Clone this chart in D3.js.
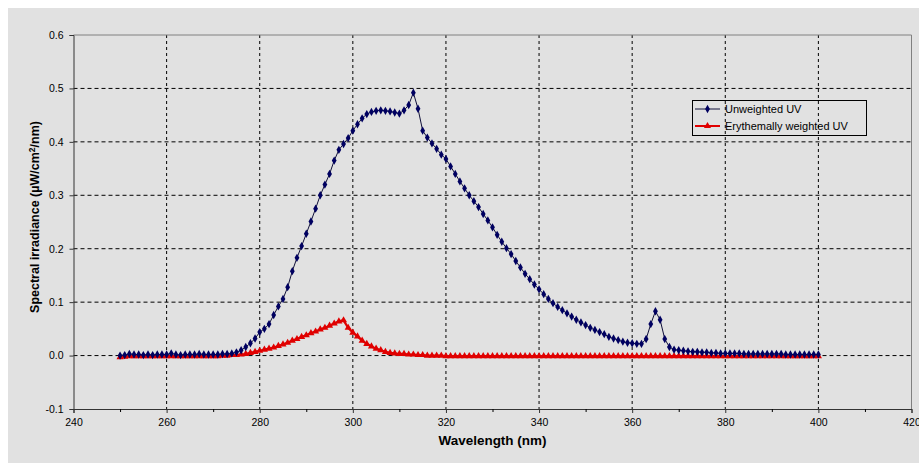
<!DOCTYPE html>
<html>
<head>
<meta charset="utf-8">
<script src="https://cdn.jsdelivr.net/npm/d3@7"></script>
<style>
  html, body { margin: 0; padding: 0; background: #fff; }
  svg { display: block; }
  text { font-family: "Liberation Sans", Arial, sans-serif; fill: #000; }
</style>
</head>
<body>
<div id="chart"></div>
<script>
// wavelength grid (nm) and measured values
const wavelength = [
  250,251,252,253,254,255,256,257,258,259,260,261,262,263,264,265,266,267,268,269,
  270,271,272,273,274,275,276,277,278,279,280,281,282,283,284,285,286,287,288,289,
  290,291,292,293,294,295,296,297,298,299,300,301,302,303,304,305,306,307,308,309,
  310,311,312,313,314,315,316,317,318,319,320,321,322,323,324,325,326,327,328,329,
  330,331,332,333,334,335,336,337,338,339,340,341,342,343,344,345,346,347,348,349,
  350,351,352,353,354,355,356,357,358,359,360,361,362,363,364,365,366,367,368,369,
  370,371,372,373,374,375,376,377,378,379,380,381,382,383,384,385,386,387,388,389,
  390,391,392,393,394,395,396,397,398,399,400
];

const unweighted = [
  0.000,0.001,0.003,0.002,0.002,0.001,0.002,0.001,0.002,0.002,
  0.002,0.004,0.002,0.001,0.002,0.002,0.002,0.003,0.002,0.002,
  0.002,0.002,0.003,0.003,0.004,0.006,0.010,0.016,0.023,0.032,
  0.044,0.050,0.059,0.076,0.092,0.106,0.128,0.158,0.183,0.205,
  0.228,0.251,0.275,0.300,0.320,0.340,0.365,0.385,0.396,0.407,
  0.421,0.433,0.444,0.452,0.456,0.458,0.459,0.458,0.457,0.455,
  0.453,0.459,0.469,0.492,0.462,0.421,0.408,0.397,0.387,0.376,
  0.368,0.354,0.340,0.326,0.313,0.300,0.289,0.278,0.265,0.253,
  0.240,0.226,0.213,0.201,0.190,0.177,0.165,0.153,0.143,0.133,
  0.124,0.115,0.106,0.098,0.091,0.085,0.079,0.073,0.067,0.062,
  0.057,0.052,0.048,0.044,0.040,0.035,0.032,0.029,0.026,0.024,
  0.023,0.022,0.022,0.031,0.059,0.083,0.067,0.031,0.016,0.011,
  0.010,0.009,0.008,0.007,0.007,0.006,0.006,0.005,0.005,0.004,
  0.004,0.004,0.004,0.004,0.003,0.003,0.003,0.003,0.003,0.003,
  0.003,0.003,0.003,0.002,0.002,0.002,0.002,0.002,0.002,0.002,
  0.002
];

const erythemal = [
  -0.003,-0.002,-0.001,-0.001,-0.001,-0.001,-0.001,-0.001,-0.001,-0.001,
  -0.001,-0.001,-0.001,-0.001,-0.001,-0.001,-0.001,-0.001,-0.001,-0.001,
  -0.001,-0.001,0.000,0.000,0.001,0.001,0.002,0.003,0.005,0.007,
  0.009,0.011,0.013,0.015,0.018,0.021,0.024,0.028,0.031,0.035,
  0.038,0.042,0.045,0.049,0.052,0.056,0.060,0.064,0.066,0.052,
  0.043,0.036,0.028,0.022,0.017,0.013,0.010,0.007,0.005,0.004,
  0.003,0.003,0.002,0.002,0.001,0.001,0.000,0.000,0.000,0.000,
  -0.001,-0.001,-0.001,-0.001,-0.001,-0.001,-0.001,-0.001,-0.001,-0.001,
  -0.001,-0.001,-0.001,-0.001,-0.001,-0.001,-0.001,-0.001,-0.001,-0.001,
  -0.001,-0.001,-0.001,-0.001,-0.001,-0.001,-0.001,-0.001,-0.001,-0.001,
  -0.001,-0.001,-0.001,-0.001,-0.001,-0.001,-0.001,-0.001,-0.001,-0.001,
  -0.001,-0.001,-0.001,-0.001,-0.001,-0.001,-0.001,-0.001,-0.001,-0.001,
  -0.001,-0.001,-0.001,-0.001,-0.001,-0.001,-0.001,-0.001,-0.001,-0.001,
  -0.001,-0.001,-0.001,-0.001,-0.001,-0.001,-0.001,-0.001,-0.001,-0.001,
  -0.001,-0.001,-0.001,-0.001,-0.001,-0.001,-0.001,-0.001,-0.001,-0.001,
  -0.001
];

const xTicks = [240,260,280,300,320,340,360,380,400,420];
const xMinor = [250,270,290,310,330,350,370,390,410];
const yTicks = [-0.1,0.0,0.1,0.2,0.3,0.4,0.5,0.6];

const seriesNames = ["Unweighted UV", "Erythemally weighted UV"];

const W = 919, H = 463;
const plot = {left: 73.5, right: 911.5, top: 35, bottom: 409};

const svg = d3.select("#chart").append("svg")
  .attr("width", W)
  .attr("height", H);

// grey chart background, white strip at top/left like the screenshot
svg.append("rect")
  .attr("x", 8).attr("y", 8)
  .attr("width", W - 8).attr("height", H - 8)
  .attr("fill", "#e1e1e1");

const x = d3.scaleLinear().domain([240, 420]).range([plot.left, plot.right]);
const y = d3.scaleLinear().domain([-0.1, 0.6]).range([plot.bottom, plot.top]);

// gridlines
svg.append("g")
  .selectAll("line")
  .data(xTicks.slice(1, -1))
  .enter().append("line")
    .attr("x1", d => x(d)).attr("x2", d => x(d))
    .attr("y1", plot.top).attr("y2", plot.bottom)
    .attr("stroke", "#000")
    .attr("stroke-width", 1)
    .attr("stroke-dasharray", "3,3");

svg.append("g")
  .selectAll("line")
  .data(yTicks.slice(1, -1))
  .enter().append("line")
    .attr("x1", plot.left).attr("x2", plot.right)
    .attr("y1", d => y(d)).attr("y2", d => y(d))
    .attr("stroke", "#000")
    .attr("stroke-width", 1)
    .attr("stroke-dasharray", "4,3");

// top and right border
svg.append("path")
  .attr("d", "M" + plot.left + "," + plot.top + "H" + plot.right + "V" + plot.bottom)
  .attr("fill", "none")
  .attr("stroke", "#808080")
  .attr("stroke-width", 1);

// axes
const yAxis = svg.append("g")
  .attr("transform", "translate(" + plot.left + ",0)")
  .call(d3.axisLeft(y).tickValues(yTicks).tickSize(4).tickPadding(6)
    .tickFormat(d => d.toFixed(1)));

const xAxis = svg.append("g")
  .attr("transform", "translate(0," + plot.bottom + ")")
  .call(d3.axisBottom(x).tickValues(xTicks).tickSize(4).tickPadding(6)
    .tickFormat(d3.format("d")));

svg.append("g")
  .attr("transform", "translate(0," + plot.bottom + ")")
  .call(d3.axisBottom(x).tickValues(xMinor).tickSize(3).tickFormat(""))
  .select(".domain").remove();

[yAxis, xAxis].forEach(a => {
  a.select(".domain").attr("stroke", "#333");
  a.selectAll(".tick line").attr("stroke", "#333");
  a.selectAll("text")
    .style("font-family", "'Liberation Sans', Arial, sans-serif")
    .style("font-size", "10.5px")
    .attr("fill", "#111");
});

// lines
const line = d3.line()
  .x((d, i) => x(wavelength[i]))
  .y(d => y(d));

svg.append("path")
  .datum(erythemal)
  .attr("d", line)
  .attr("fill", "none")
  .attr("stroke", "#e00000")
  .attr("stroke-width", 2.2);

svg.append("path")
  .datum(unweighted)
  .attr("d", line)
  .attr("fill", "none")
  .attr("stroke", "#10103a")
  .attr("stroke-width", 1);

const diamond = d3.symbol().type(d3.symbolDiamond).size(20);
const triangle = d3.symbol().type(d3.symbolTriangle).size(22);

svg.append("g")
  .selectAll("path")
  .data(erythemal)
  .enter().append("path")
    .attr("transform", (d, i) => "translate(" + x(wavelength[i]) + "," + y(d) + ")")
    .attr("d", triangle)
    .attr("fill", "#e00000");

svg.append("g")
  .selectAll("path")
  .data(unweighted)
  .enter().append("path")
    .attr("transform", (d, i) => "translate(" + x(wavelength[i]) + "," + y(d) + ")")
    .attr("d", diamond)
    .attr("fill", "#000060");

// axis titles
svg.append("text")
  .attr("x", (plot.left + plot.right) / 2 + 0)
  .attr("y", 445)
  .attr("text-anchor", "middle")
  .style("font-size", "12px")
  .style("font-weight", "bold")
  .attr("textLength", 108)
  .attr("lengthAdjust", "spacingAndGlyphs")
  .text("Wavelength (nm)");

const ytitle = svg.append("text")
  .attr("transform", "translate(39,217)rotate(-90)")
  .attr("text-anchor", "middle")
  .style("font-size", "12.5px")
  .style("font-weight", "bold");
ytitle.append("tspan").text("Spectral irradiance (µW/cm");
ytitle.append("tspan").attr("dy", -4).style("font-size", "8.5px").text("2");
ytitle.append("tspan").attr("dy", 4).text("/nm)");

// legend
const legend = svg.append("g");
legend.append("rect")
  .attr("x", 692.5).attr("y", 100.5)
  .attr("width", 174).attr("height", 35)
  .attr("fill", "none")
  .attr("stroke", "#000")
  .attr("stroke-width", 1);

const legColors = ["#10103a", "#e00000"];
const legMark = ["#000060", "#e00000"];
seriesNames.forEach((name, i) => {
  const ly = 109 + i * 17;
  legend.append("line")
    .attr("x1", 695).attr("x2", 720)
    .attr("y1", ly).attr("y2", ly)
    .attr("stroke", legColors[i])
    .attr("stroke-width", i === 0 ? 1 : 2);
  legend.append("path")
    .attr("transform", "translate(707.5," + ly + ")")
    .attr("d", i === 0 ? diamond : triangle)
    .attr("fill", legMark[i]);
  legend.append("text")
    .attr("x", 725).attr("y", ly + 4)
    .style("font-size", "11px")
    .text(name);
});
</script>
</body>
</html>
